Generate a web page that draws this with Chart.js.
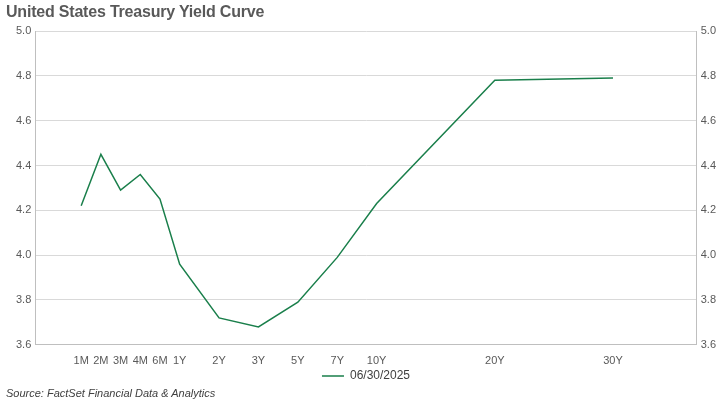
<!DOCTYPE html>
<html><head><meta charset="utf-8">
<script src="https://cdn.jsdelivr.net/npm/chart.js@4"></script>
<style>
html,body{margin:0;padding:0;background:#fff;width:720px;height:404px;overflow:hidden;font-family:Arial,"Liberation Sans",sans-serif}
#t{position:absolute;left:6px;top:3px;font-size:16px;font-weight:bold;color:#595959;letter-spacing:-0.2px}
#s{position:absolute;left:6px;top:387px;font-size:11px;font-style:italic;color:#404040}
#w{position:absolute;left:0;top:0;width:720px;height:404px}
</style></head><body>
<div id="w"><canvas id="c" width="720" height="404"></canvas></div>
<div id="t">United States Treasury Yield Curve</div>
<div id="s">Source: FactSet Financial Data &amp; Analytics</div>
<script>
const tenors = ["1M","2M","3M","4M","6M","1Y","2Y","3Y","5Y","7Y","10Y","20Y","30Y"];
const tenorIndex = [0,1,2,3,4,5,7,9,11,13,15,21,27];
const yields = [4.22,4.45,4.29,4.36,4.25,3.96,3.72,3.68,3.79,3.99,4.23,4.78,4.79];
const seriesLabel = "06/30/2025";
const yTicks = [3.6,3.8,4.0,4.2,4.4,4.6,4.8,5.0];

const pts = tenorIndex.map((x,i)=>({x:x,y:yields[i]}));
const font = {family:"Arial, 'Liberation Sans', sans-serif", size:11};
const yAxis = (pos)=>({
  position:pos, min:3.6, max:5.0,
  afterBuildTicks:a=>{a.ticks=yTicks.map(v=>({value:v}));},
  ticks:{color:"#595959",font:font,callback:v=>v.toFixed(1),padding:4},
  grid:{display:pos==='left',color:"#d9d9d9",drawTicks:false},
  border:{display:true,color:"#bfbfbf"}
});
new Chart(document.getElementById('c'),{
  type:'line',
  data:{datasets:[{label:seriesLabel,data:pts,borderColor:"#1a7f4b",backgroundColor:"#1a7f4b",borderWidth:1.5,pointRadius:0,tension:0}]},
  options:{
    responsive:false,animation:false,
    layout:{padding:{top:31,left:12,right:0,bottom:12}},
    plugins:{legend:{position:'bottom',labels:{color:"#404040",font:{family:font.family,size:12},boxWidth:22,boxHeight:0,padding:0,
      generateLabels:ch=>[{text:seriesLabel,strokeStyle:"#1a7f4b",fillStyle:"#1a7f4b",lineWidth:1.5,fontColor:"#404040"}]}},
      tooltip:{enabled:false}},
    scales:{
      x:{type:'linear',min:-2.33,max:31.25,
        afterBuildTicks:a=>{a.ticks=tenorIndex.map(v=>({value:v}));},
        ticks:{color:"#595959",font:font,autoSkip:false,maxRotation:0,padding:2,callback:(v)=>tenors[tenorIndex.indexOf(v)]},
        grid:{display:false},border:{display:true,color:"#bfbfbf"}},
      y:yAxis('left'),
      y2:yAxis('right')
    }
  }
});
</script>
</body></html>
